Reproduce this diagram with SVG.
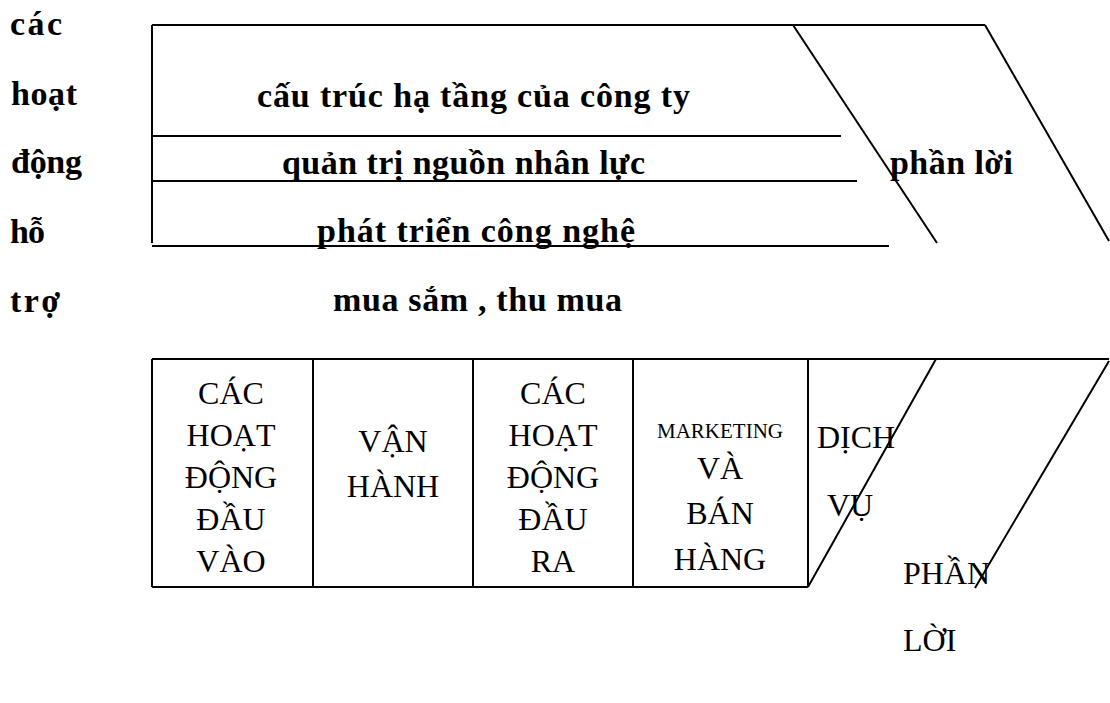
<svg xmlns="http://www.w3.org/2000/svg" width="1110" height="703" viewBox="0 0 1110 703">
<style>
.ln{stroke:#000;stroke-width:2;fill:none}
.b{font-family:"Liberation Serif","Times New Roman",serif;font-weight:bold;font-size:34px;fill:#000}
.r{font-family:"Liberation Serif","Times New Roman",serif;font-size:32px;fill:#000}
.c{text-anchor:middle}
</style>
<rect width="1110" height="703" fill="#fff"/>
<g id="connectors">
<line class="ln" x1="152" y1="25" x2="985" y2="25"/>
<line class="ln" x1="152" y1="25" x2="152" y2="243"/>
<line class="ln" x1="152" y1="136" x2="841" y2="136"/>
<line class="ln" x1="152" y1="181" x2="857" y2="181"/>
<line class="ln" x1="152" y1="246" x2="889" y2="246"/>
<line class="ln" x1="793" y1="25" x2="937" y2="243"/>
<line class="ln" x1="985" y1="25" x2="1109" y2="241"/>
<line class="ln" x1="152" y1="359" x2="1109" y2="359"/>
<line class="ln" x1="152" y1="587" x2="808" y2="587"/>
<line class="ln" x1="152" y1="359" x2="152" y2="587"/>
<line class="ln" x1="313" y1="359" x2="313" y2="587"/>
<line class="ln" x1="473" y1="359" x2="473" y2="587"/>
<line class="ln" x1="633" y1="359" x2="633" y2="587"/>
<line class="ln" x1="808" y1="359" x2="808" y2="587"/>
<line class="ln" x1="808" y1="587" x2="936" y2="359"/>
<line class="ln" x1="975" y1="588" x2="1109" y2="361"/>
</g>
<g id="support-label">
<text class="b" x="10" y="35" textLength="52" lengthAdjust="spacing">các</text>
<text class="b" x="11" y="105" textLength="66" lengthAdjust="spacing">hoạt</text>
<text class="b" x="11" y="173" textLength="71" lengthAdjust="spacing">động</text>
<text class="b" x="10" y="243" textLength="35" lengthAdjust="spacing">hỗ</text>
<text class="b" x="10" y="312" textLength="50" lengthAdjust="spacing">trợ</text>
</g>
<g id="infrastructure"><text class="b" x="257" y="107" textLength="433" lengthAdjust="spacing">cấu trúc hạ tầng của công ty</text></g>
<g id="hr"><text class="b" x="282" y="174" textLength="363" lengthAdjust="spacing">quản trị nguồn nhân lực</text></g>
<g id="tech"><text class="b" x="317" y="242" textLength="318" lengthAdjust="spacing">phát triển công nghệ</text></g>
<g id="procurement"><text class="b" x="333" y="311" textLength="289" lengthAdjust="spacing">mua sắm , thu mua</text></g>
<g id="margin-top"><text class="b" x="890" y="174" textLength="123" lengthAdjust="spacing">phần lời</text></g>
<g id="inbound">
<text class="r c" x="231" y="404">CÁC</text>
<text class="r c" x="231" y="446">HOẠT</text>
<text class="r c" x="231" y="488">ĐỘNG</text>
<text class="r c" x="231" y="530">ĐẦU</text>
<text class="r c" x="231" y="572">VÀO</text>
</g>
<g id="operations">
<text class="r c" x="393" y="452">VẬN</text>
<text class="r c" x="393" y="497">HÀNH</text>
</g>
<g id="outbound">
<text class="r c" x="553" y="404">CÁC</text>
<text class="r c" x="553" y="446">HOẠT</text>
<text class="r c" x="553" y="488">ĐỘNG</text>
<text class="r c" x="553" y="530">ĐẦU</text>
<text class="r c" x="553" y="572">RA</text>
</g>
<g id="marketing">
<text class="r c" x="720" y="438" style="font-size:21px">MARKETING</text>
<text class="r c" x="720" y="479">VÀ</text>
<text class="r c" x="720" y="524">BÁN</text>
<text class="r c" x="720" y="570">HÀNG</text>
</g>
<g id="service">
<text class="r" x="817" y="448">DỊCH</text>
<text class="r" x="827" y="516">VỤ</text>
</g>
<g id="margin-bottom">
<text class="r" x="903" y="584">PHẦN</text>
<text class="r" x="903" y="651">LỜI</text>
</g>
</svg>
